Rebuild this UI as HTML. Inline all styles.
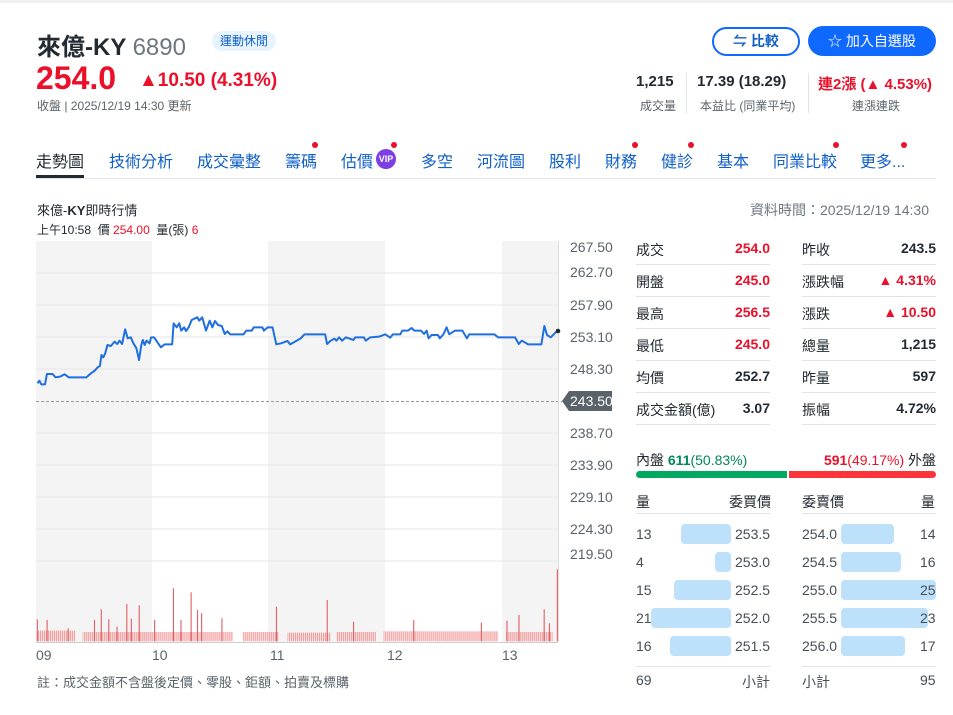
<!DOCTYPE html>
<html><head><meta charset="utf-8"><style>
*{margin:0;padding:0;box-sizing:border-box}
body{width:953px;height:715px;background:#fff;font-family:"Liberation Sans","Noto Sans CJK TC",sans-serif;position:relative;overflow:hidden;color:#232a31}
.a{position:absolute;white-space:nowrap}
.r{color:#eb0f29}.g{color:#00875a}
.lbl{font-size:14px;color:#232a31}
.val{font-size:14px;font-weight:bold;text-align:right}
.tab{font-size:16px;color:#0f5fc7;top:148px}
.dot{position:absolute;width:6px;height:6px;border-radius:3px;background:#eb0f29}
.sep{position:absolute;height:1px;background:#e0e4e9}
.yl{position:absolute;left:570px;font-size:14px;color:#5b636a}
.bb{position:absolute;height:20px;background:#bde0fb;border-radius:4px}
.bk{font-size:14px;color:#464e56}
</style></head><body>
<div style="position:absolute;left:0;top:0;width:953px;height:3px;background:#f0f0f0"></div>
<div class="a" style="left:37px;top:27px;font-size:24px;font-weight:bold">來億-KY <span style="font-weight:normal;color:#6e7780">6890</span></div>
<div class="a" style="left:212px;top:31px;height:20px;padding:0 8px;border-radius:10px;background:#e8f4fd;color:#0f5fc7;font-size:12px;line-height:20px">運動休閒</div>
<div class="a r" style="left:36px;top:60px;font-size:32px;font-weight:bold">254.0</div>
<div class="a r" style="left:139px;top:70px;font-size:19px;font-weight:bold">▲10.50 (4.31%)</div>
<div class="a" style="left:37px;top:97px;font-size:12px;color:#5b636a">收盤 | 2025/12/19 14:30 更新</div>

<div class="a" style="left:712px;top:27px;width:88px;height:29px;border:2px solid #0f69ff;border-radius:15px;color:#0f5fc7;font-size:14px;font-weight:bold;text-align:center;line-height:25px">⇋ 比較</div>
<div class="a" style="left:808px;top:26px;width:128px;height:30px;background:#0f69ff;border-radius:15px;color:#fff;font-size:14px;text-align:center;line-height:30px">☆ 加入自選股</div>

<div class="a" style="left:636px;top:73px;font-size:15px;font-weight:bold">1,215</div>
<div class="a" style="left:640px;top:97px;font-size:12px;color:#5b636a">成交量</div>
<div style="position:absolute;left:686px;top:73px;width:1px;height:40px;background:#e0e4e9"></div>
<div class="a" style="left:697px;top:73px;font-size:15px;font-weight:bold">17.39 (18.29)</div>
<div class="a" style="left:700px;top:97px;font-size:12px;color:#5b636a">本益比 (同業平均)</div>
<div style="position:absolute;left:808px;top:73px;width:1px;height:40px;background:#e0e4e9"></div>
<div class="a r" style="left:818px;top:73px;font-size:15px;font-weight:bold">連2漲 (▲ 4.53%)</div>
<div class="a" style="left:852px;top:97px;font-size:12px;color:#5b636a">連漲連跌</div>

<div class="a tab" style="left:36px;color:#232a31">走勢圖</div>
<div style="position:absolute;left:36px;top:175px;width:48px;height:3px;background:#232a31"></div>
<div class="a tab" style="left:109px">技術分析</div>
<div class="a tab" style="left:197px">成交彙整</div>
<div class="a tab" style="left:285px">籌碼</div><div class="dot" style="left:312px;top:142px"></div>
<div class="a tab" style="left:341px">估價</div>
<div class="a" style="left:376px;top:149px;width:20px;height:20px;border-radius:10px;background:#7b3fe4;color:#fff;font-size:9px;font-weight:bold;text-align:center;line-height:20px">VIP</div><div class="dot" style="left:391px;top:142px"></div>
<div class="a tab" style="left:421px">多空</div>
<div class="a tab" style="left:477px">河流圖</div>
<div class="a tab" style="left:549px">股利</div>
<div class="a tab" style="left:605px">財務</div><div class="dot" style="left:632px;top:142px"></div>
<div class="a tab" style="left:661px">健診</div><div class="dot" style="left:688px;top:142px"></div>
<div class="a tab" style="left:717px">基本</div>
<div class="a tab" style="left:773px">同業比較</div><div class="dot" style="left:833px;top:142px"></div>
<div class="a tab" style="left:860px">更多...</div><div class="dot" style="left:901px;top:142px"></div>
<div class="sep" style="left:36px;top:178px;width:900px"></div>

<div class="a" style="left:37px;top:200px;font-size:13px">來億-<b>KY</b>即時行情</div>
<div class="a" style="left:750px;top:200px;font-size:14px;color:#6e7780">資料時間：2025/12/19 14:30</div>
<div class="a" style="left:37px;top:221px;font-size:12px">上午10:58&nbsp; 價 <span class="r">254.00</span>&nbsp; 量(張) <span class="r">6</span></div>

<svg style="position:absolute;left:0;top:0" width="953" height="715">
<rect x="36" y="241" width="116" height="401" fill="#f4f4f4"/>
<rect x="268" y="241" width="117" height="401" fill="#f4f4f4"/>
<rect x="502" y="241" width="56" height="401" fill="#f4f4f4"/>
<g stroke="#e6e6e6" stroke-width="1">
<line x1="36" x2="558" y1="273" y2="273"/><line x1="36" x2="558" y1="305" y2="305"/><line x1="36" x2="558" y1="337" y2="337"/><line x1="36" x2="558" y1="369" y2="369"/><line x1="36" x2="558" y1="433" y2="433"/><line x1="36" x2="558" y1="465" y2="465"/><line x1="36" x2="558" y1="497" y2="497"/><line x1="36" x2="558" y1="529" y2="529"/><line x1="36" x2="558" y1="561" y2="561"/>
</g>
<line x1="36" x2="562" y1="401.5" y2="401.5" stroke="#999" stroke-dasharray="3,2"/>
<line x1="558.5" x2="558.5" y1="241" y2="642" stroke="#ddd"/>
<line x1="36" x2="558" y1="642.5" y2="642.5" stroke="#ccc"/>
<defs><pattern id="vp" width="5.3" height="40" patternUnits="userSpaceOnUse"><rect x="0" y="0" width="3.2" height="40" fill="#f29b9b"/></pattern></defs>
<g transform="translate(30,240) scale(0.376,0.3333)">
<g fill="url(#vp)">
<rect x="18" y="1172" width="102" height="32"/><rect x="140" y="1176" width="400" height="28"/><rect x="565" y="1176" width="96" height="28"/><rect x="685" y="1178" width="115" height="26"/><rect x="815" y="1176" width="105" height="28"/><rect x="940" y="1174" width="305" height="30"/><rect x="1265" y="1176" width="125" height="28"/>
</g>
<g fill="#e06068">
<rect x="18" y="1138" width="3" height="66"/><rect x="44" y="1140" width="3" height="64"/><rect x="170" y="1140" width="3" height="64"/><rect x="188" y="1108" width="3" height="96"/><rect x="208" y="1138" width="3" height="66"/><rect x="256" y="1092" width="3" height="112"/><rect x="289" y="1096" width="3" height="108"/><rect x="330" y="1140" width="3" height="64"/><rect x="380" y="1045" width="3" height="159"/><rect x="427" y="1057" width="3" height="147"/><rect x="444" y="1110" width="3" height="94"/><rect x="455" y="1120" width="3" height="84"/><rect x="509" y="1135" width="3" height="69"/><rect x="654" y="1100" width="3" height="104"/><rect x="789" y="1080" width="3" height="124"/><rect x="859" y="1145" width="3" height="59"/><rect x="1019" y="1140" width="3" height="64"/><rect x="1199" y="1148" width="3" height="56"/><rect x="1267" y="1142" width="3" height="62"/><rect x="1299" y="1125" width="3" height="79"/><rect x="1366" y="1108" width="3" height="96"/><rect x="1380" y="1150" width="3" height="54"/><rect x="1401" y="988" width="3" height="216"/><rect x="400" y="1140" width="3" height="64"/><rect x="268" y="1136" width="3" height="68"/><rect x="230" y="1160" width="3" height="44"/><rect x="100" y="1165" width="3" height="39"/>
</g>
<polyline fill="none" stroke="#1f6fe0" stroke-width="2" vector-effect="non-scaling-stroke" stroke-linejoin="round" points="20,430 25,422 30,433 40,433 45,402 60,402 68,412 80,410 92,403 103,412 150,412 160,402 172,392 180,382 186,378 190,345 195,352 200,340 206,315 215,318 225,305 232,312 238,302 245,312 253,268 260,295 268,292 275,310 283,325 290,360 296,315 300,300 305,315 310,302 318,310 322,292 330,292 348,322 358,313 378,313 382,250 390,262 397,250 402,272 410,262 415,273 422,262 430,240 445,232 450,242 458,232 468,272 478,242 485,262 492,243 500,255 510,258 518,282 525,274 532,283 568,283 575,272 590,272 595,262 618,262 622,272 632,262 645,262 655,313 668,310 685,303 692,313 720,295 730,283 785,283 790,312 800,302 810,296 815,302 822,292 830,302 840,292 860,300 865,292 888,292 893,302 905,292 928,290 945,283 958,293 965,283 985,283 990,272 1005,272 1015,264 1022,272 1040,272 1048,282 1055,272 1060,295 1068,285 1085,285 1090,295 1100,282 1108,262 1115,283 1130,272 1150,272 1162,295 1168,283 1235,283 1245,292 1290,292 1300,312 1308,302 1325,313 1360,313 1368,258 1375,285 1385,292 1400,275"/>
</g>
<circle cx="558" cy="331" r="2.3" fill="#232a31"/>
<path d="M562 401 L569 391 H612 V411 H569 Z" fill="#5b636a"/>
</svg>
<div class="yl" style="top:239px">267.50</div>
<div class="yl" style="top:264px">262.70</div>
<div class="yl" style="top:297px">257.90</div>
<div class="yl" style="top:329px">253.10</div>
<div class="yl" style="top:361px">248.30</div>
<div class="yl" style="top:393px;color:#fff">243.50</div>
<div class="yl" style="top:425px">238.70</div>
<div class="yl" style="top:457px">233.90</div>
<div class="yl" style="top:489px">229.10</div>
<div class="yl" style="top:521px">224.30</div>
<div class="yl" style="top:546px">219.50</div>
<div class="a" style="left:36px;top:647px;font-size:14px;color:#5b636a">09</div>
<div class="a" style="left:152px;top:647px;font-size:14px;color:#5b636a">10</div>
<div class="a" style="left:270px;top:647px;font-size:14px;color:#5b636a">11</div>
<div class="a" style="left:387px;top:647px;font-size:14px;color:#5b636a">12</div>
<div class="a" style="left:502px;top:647px;font-size:14px;color:#5b636a">13</div>
<div class="a" style="left:37px;top:672px;font-size:13px;color:#5b636a">註：成交金額不含盤後定價、零股、鉅額、拍賣及標購</div>

<div class="a lbl" style="left:636px;top:240px">成交</div><div class="a val r" style="left:700px;top:240px;width:70px">254.0</div>
<div class="a lbl" style="left:636px;top:272px">開盤</div><div class="a val r" style="left:700px;top:272px;width:70px">245.0</div>
<div class="a lbl" style="left:636px;top:304px">最高</div><div class="a val r" style="left:700px;top:304px;width:70px">256.5</div>
<div class="a lbl" style="left:636px;top:336px">最低</div><div class="a val r" style="left:700px;top:336px;width:70px">245.0</div>
<div class="a lbl" style="left:636px;top:368px">均價</div><div class="a val" style="left:700px;top:368px;width:70px">252.7</div>
<div class="a lbl" style="left:636px;top:400px">成交金額(億)</div><div class="a val" style="left:720px;top:400px;width:50px">3.07</div>
<div class="a lbl" style="left:802px;top:240px">昨收</div><div class="a val" style="left:856px;top:240px;width:80px">243.5</div>
<div class="a lbl" style="left:802px;top:272px">漲跌幅</div><div class="a val r" style="left:856px;top:272px;width:80px">▲ 4.31%</div>
<div class="a lbl" style="left:802px;top:304px">漲跌</div><div class="a val r" style="left:856px;top:304px;width:80px">▲ 10.50</div>
<div class="a lbl" style="left:802px;top:336px">總量</div><div class="a val" style="left:856px;top:336px;width:80px">1,215</div>
<div class="a lbl" style="left:802px;top:368px">昨量</div><div class="a val" style="left:856px;top:368px;width:80px">597</div>
<div class="a lbl" style="left:802px;top:400px">振幅</div><div class="a val" style="left:856px;top:400px;width:80px">4.72%</div>
<div class="sep" style="left:636px;top:264px;width:134px"></div><div class="sep" style="left:802px;top:264px;width:134px"></div>
<div class="sep" style="left:636px;top:296px;width:134px"></div><div class="sep" style="left:802px;top:296px;width:134px"></div>
<div class="sep" style="left:636px;top:328px;width:134px"></div><div class="sep" style="left:802px;top:328px;width:134px"></div>
<div class="sep" style="left:636px;top:360px;width:134px"></div><div class="sep" style="left:802px;top:360px;width:134px"></div>
<div class="sep" style="left:636px;top:392px;width:134px"></div><div class="sep" style="left:802px;top:392px;width:134px"></div>
<div class="sep" style="left:636px;top:424px;width:134px"></div><div class="sep" style="left:802px;top:424px;width:134px"></div>

<div class="a" style="left:636px;top:450px;font-size:14px">內盤 <b class="g">611</b><span class="g">(50.83%)</span></div>
<div class="a" style="left:818px;top:450px;font-size:14px;text-align:right;width:118px"><b class="r">591</b><span class="r">(49.17%)</span> 外盤</div>
<div style="position:absolute;left:636px;top:471px;width:151px;height:7px;background:#00a862;border-radius:4px 0 0 4px"></div>
<div style="position:absolute;left:789px;top:471px;width:147px;height:7px;background:#ff333a;border-radius:0 4px 4px 0"></div>

<div class="a lbl" style="left:636px;top:492px">量</div><div class="a lbl" style="left:729px;top:492px">委買價</div>
<div class="a lbl" style="left:802px;top:492px">委賣價</div><div class="a lbl" style="left:921px;top:492px">量</div>
<div class="sep" style="left:636px;top:513px;width:134px"></div><div class="sep" style="left:802px;top:513px;width:134px"></div>

<div class="bb" style="left:681px;top:524px;width:50px"></div><div class="bb" style="left:715px;top:552px;width:16px"></div><div class="bb" style="left:674px;top:580px;width:57px"></div><div class="bb" style="left:651px;top:608px;width:80px"></div><div class="bb" style="left:670px;top:636px;width:61px"></div>
<div class="bb" style="left:841px;top:524px;width:53px"></div><div class="bb" style="left:841px;top:552px;width:60px"></div><div class="bb" style="left:841px;top:580px;width:95px"></div><div class="bb" style="left:841px;top:608px;width:87px"></div><div class="bb" style="left:841px;top:636px;width:64px"></div>

<div class="a bk" style="left:636px;top:526px">13</div><div class="a bk" style="left:735px;top:526px">253.5</div><div class="a bk" style="left:802px;top:526px">254.0</div><div class="a bk" style="left:920px;top:526px">14</div>
<div class="a bk" style="left:636px;top:554px">4</div><div class="a bk" style="left:735px;top:554px">253.0</div><div class="a bk" style="left:802px;top:554px">254.5</div><div class="a bk" style="left:920px;top:554px">16</div>
<div class="a bk" style="left:636px;top:582px">15</div><div class="a bk" style="left:735px;top:582px">252.5</div><div class="a bk" style="left:802px;top:582px">255.0</div><div class="a bk" style="left:920px;top:582px">25</div>
<div class="a bk" style="left:636px;top:610px">21</div><div class="a bk" style="left:735px;top:610px">252.0</div><div class="a bk" style="left:802px;top:610px">255.5</div><div class="a bk" style="left:920px;top:610px">23</div>
<div class="a bk" style="left:636px;top:638px">16</div><div class="a bk" style="left:735px;top:638px">251.5</div><div class="a bk" style="left:802px;top:638px">256.0</div><div class="a bk" style="left:920px;top:638px">17</div>
<div class="sep" style="left:636px;top:666px;width:134px"></div><div class="sep" style="left:802px;top:666px;width:134px"></div>
<div class="a bk" style="left:636px;top:672px">69</div><div class="a bk" style="left:742px;top:672px">小計</div>
<div class="a bk" style="left:802px;top:672px">小計</div><div class="a bk" style="left:920px;top:672px">95</div>
</body></html>
